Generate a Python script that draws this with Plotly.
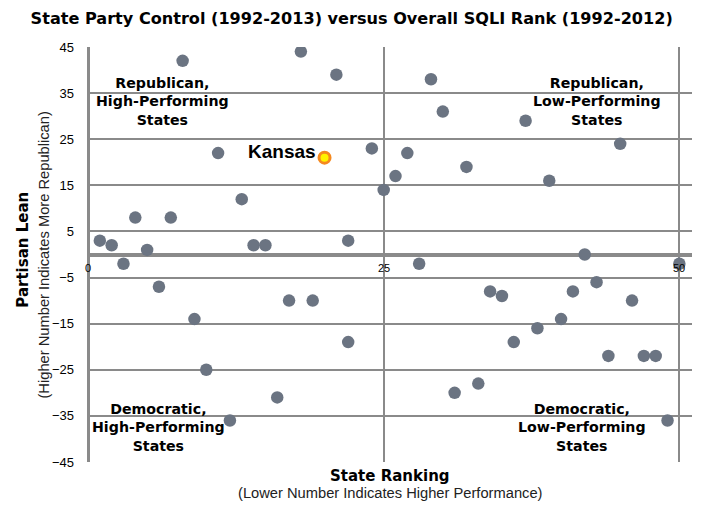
import plotly.graph_objects as go

# State ranking (x) and partisan lean (y)
rank = [1, 2, 3, 4, 5, 6, 7, 8, 9, 10, 11, 12, 13, 14, 15, 16, 17, 18, 19,
        21, 22, 22, 24, 25, 26, 27, 28, 29, 30, 31, 32, 33, 34, 35, 36, 37,
        38, 39, 40, 41, 42, 43, 44, 45, 46, 47, 48, 49, 50]
lean = [3, 2, -2, 8, 1, -7, 8, 42, -14, -25, 22, -36, 12, 2, 2, -31, -10, 44, -10,
        39, -19, 3, 23, 14, 17, 22, -2, 38, 31, -30, 19, -28, -8, -9, -19, 29,
        -16, 16, -14, -8, 0, -6, -22, 24, -10, -22, -22, -36, -2]
kansas_rank = [20]
kansas_lean = [21]

x_ticks = [0, 25, 50]
y_ticks = [-45, -35, -25, -15, -5, 5, 15, 25, 35, 45]

quad_labels = ["Republican,<br>High-Performing<br>States",
               "Republican,<br>Low-Performing<br>States",
               "Democratic,<br>High-Performing<br>States",
               "Democratic,<br>Low-Performing<br>States"]
quad_x = [6.3, 43.0, 6.0, 41.8]
quad_y = [33.2, 33.2, -37.5, -37.5]

GRID = "#8a8a8a"
HEAVY = "DejaVu Sans"
BOLD = "Liberation Sans"

fig = go.Figure()
fig.add_trace(go.Scatter(
    x=rank, y=lean, mode="markers",
    marker=dict(size=12.5, color="#6b7482", line=dict(width=0)),
    showlegend=False, hoverinfo="x+y"))
fig.add_trace(go.Scatter(
    x=kansas_rank, y=kansas_lean, mode="markers",
    marker=dict(size=11, color="#fff200", line=dict(width=3, color="#f5891f")),
    showlegend=False))

annotations = []
for t, xx, yy in zip(quad_labels, quad_x, quad_y):
    annotations.append(dict(x=xx, y=yy, xref="x", yref="y", text="<b>" + t + "</b>",
                            showarrow=False, align="center",
                            font=dict(family=HEAVY, size=14.2, color="black")))
annotations.append(dict(x=kansas_rank[0] - 0.55, y=kansas_lean[0] + 1.3, xref="x", yref="y",
                        text="<b>Kansas</b>", showarrow=False, xanchor="right",
                        font=dict(family=BOLD, size=19, color="black")))
for xt in x_ticks:
    annotations.append(dict(x=xt, y=-1.3, xref="x", yref="y", text=str(xt),
                            showarrow=False, yanchor="top", xanchor="center",
                            font=dict(family=BOLD, size=11, color="black")))
PH = 415.0
annotations.append(dict(x=0.5, y=-14 / PH, xref="paper", yref="paper",
                        text="<b>State Ranking</b>", showarrow=False, yanchor="middle",
                        font=dict(family=HEAVY, size=15, color="black")))
annotations.append(dict(x=0.5, y=-31 / PH, xref="paper", yref="paper",
                        text="(Lower Number Indicates Higher Performance)", showarrow=False,
                        yanchor="middle", font=dict(family="Liberation Sans", size=14.7, color="#222")))
annotations.append(dict(x=-0.108, y=0.511, xref="paper", yref="paper",
                        text="<b>Partisan Lean</b>", showarrow=False, textangle=-90,
                        xanchor="center", yanchor="middle",
                        font=dict(family=HEAVY, size=15, color="black")))
annotations.append(dict(x=-0.0735, y=0.499, xref="paper", yref="paper",
                        text="(Higher Number Indicates More Republican)", showarrow=False,
                        textangle=-90, xanchor="center", yanchor="middle",
                        font=dict(family="Liberation Sans", size=14.7, color="#222")))

# page body has an 8px default margin; figure is sized so the plot area
# lands at the reference's pixel position
fig.update_layout(
    width=700, height=506,
    margin=dict(l=80, r=16, t=39, b=52, autoexpand=False),
    paper_bgcolor="white", plot_bgcolor="white",
    title=dict(text="<b>State Party Control (1992-2013) versus Overall SQLI Rank (1992-2012)</b>",
               x=0.491, xanchor="center", y=0.980, yanchor="middle",
               font=dict(family=HEAVY, size=16.1, color="black")),
    xaxis=dict(range=[0, 51.07], tickvals=x_ticks, showticklabels=False,
               showgrid=True, gridcolor=GRID, gridwidth=2, automargin=False,
               zeroline=True, zerolinecolor=GRID, zerolinewidth=3, showline=False),
    yaxis=dict(range=[-45, 45], tickvals=y_ticks, ticks="", ticklen=0,
               ticklabelstandoff=13, automargin=False,
               showgrid=True, gridcolor=GRID, gridwidth=1.5,
               zeroline=True, zerolinecolor=GRID, zerolinewidth=3.5, showline=False,
               tickfont=dict(family=BOLD, size=13, color="black")),
    annotations=annotations,
)
fig.write_html("out.html")
